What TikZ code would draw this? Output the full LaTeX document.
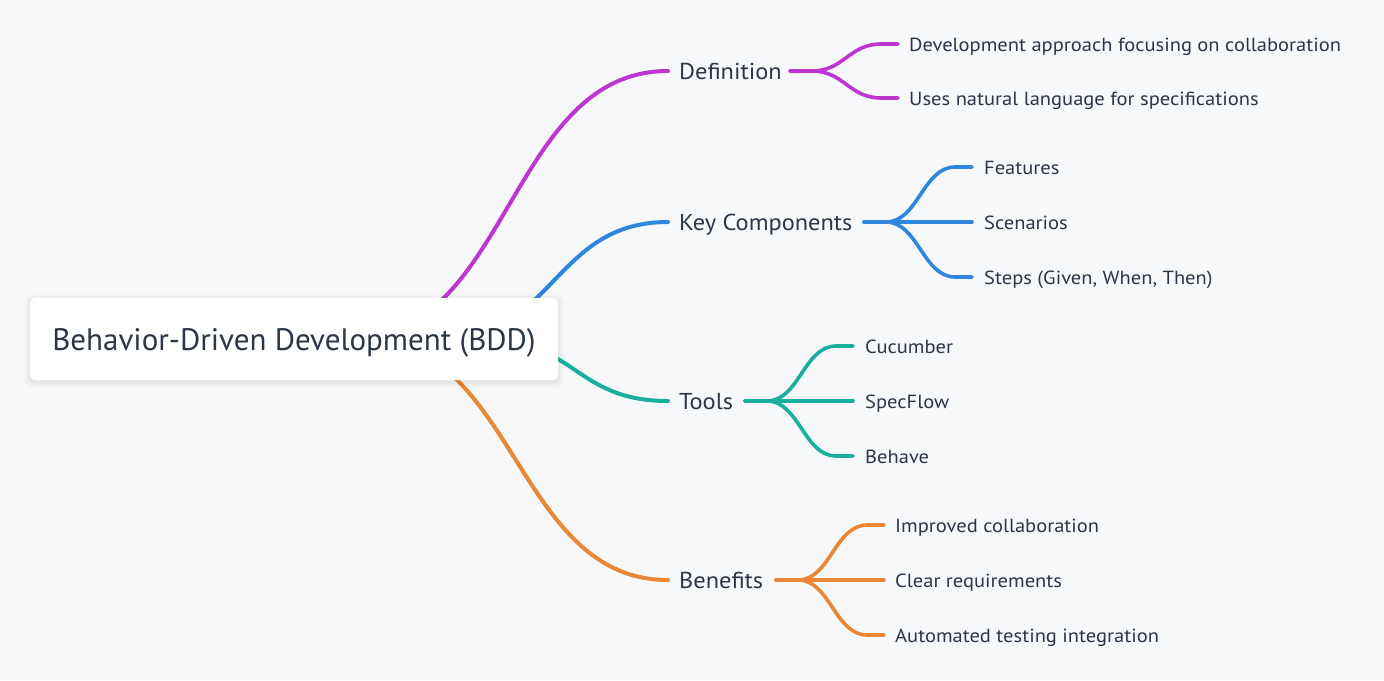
\documentclass[tikz,border=0pt]{standalone}
\usepackage{fontspec}
\setmainfont{PT Sans}
\newfontfamily\lvlonefont[FakeStretch=1.06]{PT Sans}
\newfontfamily\lvltwofont[FakeStretch=1.08]{PT Sans}
\usetikzlibrary{calc}
\definecolor{bg}{HTML}{F7F8FA}
\definecolor{ink}{HTML}{2B3646}
\definecolor{cpurple}{HTML}{BE35D2}
\definecolor{cblue}{HTML}{2E86DE}
\definecolor{cteal}{HTML}{1AAE9F}
\definecolor{corange}{HTML}{EB8634}
\begin{document}
\begin{tikzpicture}[x=1pt,y=-1pt,
  mainline/.style={line width=4pt,line cap=round},
  subline/.style={line width=3.6pt,line cap=round},
  lvlone/.style={anchor=base west,inner sep=0pt,text=ink,font=\lvlonefont\fontsize{23}{27}\selectfont},
  lvltwo/.style={anchor=base west,inner sep=0pt,text=ink,font=\lvltwofont\fontsize{19}{23}\selectfont},
  rootbox/.style={fill=white,rounded corners=6pt,minimum width=528pt,minimum height=82pt,inner sep=0pt,text height=22pt,text depth=0pt,text=ink,font=\fontsize{31}{35}\selectfont}
]
\useasboundingbox (0,0) rectangle (1384,680);
\fill[bg] (0,0) rectangle (1384,680);

% start points (hidden under root box)
\coordinate (s-def) at (350,339);
\coordinate (s-kc) at (440,339);
\coordinate (s-tools) at (482,339);
\coordinate (s-ben) at (363,339);
% level-1 line ends
\coordinate (def-in) at (668,71);
\coordinate (kc-in) at (668,222);
\coordinate (tools-in) at (668,401);
\coordinate (ben-in) at (668,580);
% level-1 line starts (after text)
\coordinate (def-out) at (790,71);
\coordinate (kc-out) at (864,222);
\coordinate (tools-out) at (745,401);
\coordinate (ben-out) at (776,580);
% level-2 line ends
\coordinate (d1-in) at (898,44);
\coordinate (d2-in) at (898,98);
\coordinate (k1-in) at (972,167);
\coordinate (k2-in) at (972,222);
\coordinate (k3-in) at (972,277);
\coordinate (t1-in) at (853,346);
\coordinate (t2-in) at (853,401);
\coordinate (t3-in) at (853,456);
\coordinate (b1-in) at (884,525);
\coordinate (b2-in) at (884,580);
\coordinate (b3-in) at (884,635);

% main branches
\draw[mainline,cpurple] (s-def) .. controls +(160,0) and +(-160,0) .. (def-in);
\draw[mainline,cblue] (s-kc) .. controls +(115,0) and +(-115,0) .. (kc-in);
\draw[mainline,cteal] (s-tools) .. controls +(94,0) and +(-94,0) .. (tools-in);
\draw[mainline,corange] (s-ben) .. controls +(153,0) and +(-153,0) .. (ben-in);

% sub branches
\foreach \src/\dst/\col in {def-out/d1-in/cpurple,def-out/d2-in/cpurple,
  kc-out/k1-in/cblue,kc-out/k2-in/cblue,kc-out/k3-in/cblue,
  tools-out/t1-in/cteal,tools-out/t2-in/cteal,tools-out/t3-in/cteal,
  ben-out/b1-in/corange,ben-out/b2-in/corange,ben-out/b3-in/corange}{
  \draw[subline,\col] (\src) -- ++(22,0) .. controls +(32,0) and +(-32,0) .. ($(\dst)+(-17,0)$) -- (\dst);
}

% root box with soft shadow
\foreach \e/\o in {6/0.015,4/0.02,2/0.03}{
  \fill[black,opacity=\o,rounded corners=8pt] (30-\e,298-\e+2) rectangle (558+\e,380+\e+2);
}
\node[rootbox] (root) at (294,339) {Behavior-Driven Development (BDD)};

% level-1 texts
\node[lvlone] (def) at (679,79) {Definition};
\node[lvlone] (kc) at (679,230) {Key Components};
\node[lvlone] (tools) at (679,409) {Tools};
\node[lvlone] (ben) at (679,588) {Benefits};

% level-2 texts
\node[lvltwo] (d1) at (909,51) {Development approach focusing on collaboration};
\node[lvltwo] (d2) at (909,105) {Uses natural language for specifications};
\node[lvltwo] (k1) at (984,174) {Features};
\node[lvltwo] (k2) at (984,229) {Scenarios};
\node[lvltwo] (k3) at (984,284) {Steps (Given, When, Then)};
\node[lvltwo] (t1) at (865,353) {Cucumber};
\node[lvltwo] (t2) at (865,408) {SpecFlow};
\node[lvltwo] (t3) at (865,463) {Behave};
\node[lvltwo] (b1) at (895,532) {Improved collaboration};
\node[lvltwo] (b2) at (895,587) {Clear requirements};
\node[lvltwo] (b3) at (895,642) {Automated testing integration};
\end{tikzpicture}
\end{document}
